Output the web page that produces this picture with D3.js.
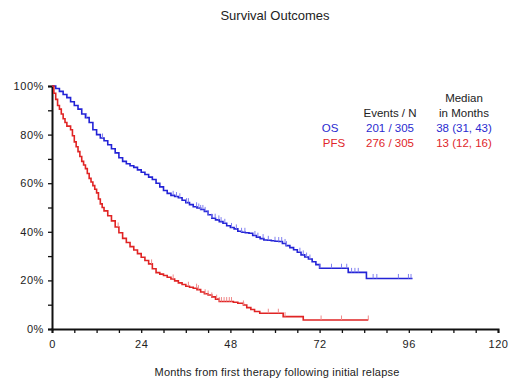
<!DOCTYPE html>
<html>
<head>
<script src="https://d3js.org/d3.v7.min.js"></script>
<style>
  body { margin: 0; background: #fff; }
  text { font-family: "Liberation Sans", Arial, sans-serif; fill: #222; }
</style>
</head>
<body>
<div id="chart"></div>
<script>
// OS curve: [months, survival %]
var osTimes = [0, 1, 2, 3, 4, 5, 6, 7, 8, 9, 10, 11, 12, 13, 14, 15, 16, 17, 18, 19, 20, 21, 22, 23, 24, 25, 26, 27,
  28, 29, 30, 31, 32, 33, 34, 35, 36, 37, 38, 39, 40, 41, 42, 43, 44, 45, 46, 47, 48, 49, 50, 51, 52, 53, 54, 55,
  56, 57, 58, 59, 60, 61, 62, 63, 64, 65, 66, 67, 68, 69, 70, 71, 72, 79.7, 84.6, 97];
var osSurv = [100, 99, 97.8, 96.5, 95.2, 93.5, 92, 90.5, 88.5, 87, 85, 82, 80, 78.6, 77.5, 75.8, 74.2, 72.5, 70.5, 69,
  68, 67.2, 66.5, 65.5, 64.5, 63.6, 62.5, 61.5, 60, 58.5, 57, 55.8, 55, 54.5, 54, 53, 52, 51.2, 50.3, 49.8, 49.2,
  48.4, 47, 45.6, 44.9, 44.2, 43.5, 42.5, 41.8, 41.2, 40.2, 39.8, 39.6, 39.4, 38.5, 37.8, 37.2, 36.6, 36.5, 36.3,
  36.1, 36, 35.2, 34.3, 33.5, 32.6, 31.6, 30.5, 29.6, 28.8, 27.7, 26.5, 25, 23.3, 20.8, 20.8];
var osCensor = [9.3, 13.6, 32.6, 33.5, 34.4, 36.2, 36.7, 38.9, 39.5, 40, 40.6, 41.2, 42, 43, 43.9, 44.9, 45.5, 46.5,
  48.3, 49.6, 51, 51.9, 54.6, 55.4, 56.8, 58.2, 60, 61, 61.8, 62.7, 63.1, 66.7, 67.6, 68.5, 69.4, 72.1, 75.2, 77.9,
  79.3, 80.6, 81.5, 82.4, 86.4, 87.4, 93.2, 95.9, 96.6];

// PFS curve
var pfsTimes = [0, 0.5, 1, 1.5, 2, 2.5, 3, 3.5, 4, 5, 5.5, 6, 6.5, 7, 7.5, 8, 8.5, 9, 9.5, 10, 10.5, 11, 11.5, 12,
  12.5, 13, 13.5, 14, 15, 16, 17, 18, 19, 20, 21, 22, 23, 24, 25, 26, 27, 28, 29, 30, 31, 32, 33, 34, 35, 36, 37,
  38, 39, 40, 41, 42, 43, 44, 45, 48.8, 50, 51.5, 52.4, 53.5, 54.5, 55.9, 62.2, 67.6, 85.1];
var pfsSurv = [100, 97, 94.5, 92, 90.5, 88.5, 86.5, 85, 83.5, 82, 79.5, 77, 75, 73, 71, 69, 67.5, 66, 64, 62, 60.5,
  59, 57.5, 56, 53.5, 51.5, 50, 48.6, 46.6, 44.5, 42, 39.6, 37.3, 35.6, 33.9, 32.5, 31, 29.5, 28.2, 26.8, 24.8,
  23.2, 22.6, 22, 21.3, 20.6, 19.8, 19, 18.3, 17.6, 17.2, 16.8, 16.2, 15.2, 14.5, 14, 13.2, 12.3, 11.3, 11, 10.6,
  9.9, 8.8, 8, 7.2, 6.5, 5.1, 3.7, 3.7];
var pfsCensor = [17.8, 26.8, 32.6, 36.7, 38.9, 39.4, 41.2, 42, 43, 44.3, 45, 45.6, 46.3, 47, 47.7, 48.3, 51.5, 58.2,
  60.9, 62.7, 72.4, 77.9, 85.1];

var xTicks = [0, 24, 48, 72, 96, 120];
var yTicks = [0, 20, 40, 60, 80, 100];

var width = 520, height = 389;
var svg = d3.select("#chart").append("svg")
  .attr("width", width).attr("height", height);

var x = d3.scaleLinear().domain([0, 120]).range([52, 498]);
var y = d3.scaleLinear().domain([0, 100]).range([329, 86]);

// title
svg.append("text").attr("x", 275).attr("y", 20)
  .attr("text-anchor", "middle").style("font-size", "13px").text("Survival Outcomes");

// axes
var xAxis = d3.axisBottom(x).tickValues(d3.range(0, 121, 6)).tickSize(4)
  .tickFormat(function (d) { return xTicks.indexOf(d) >= 0 ? d : ""; });
var yAxis = d3.axisLeft(y).tickValues(d3.range(0, 101, 10)).tickSize(4)
  .tickFormat(function (d) { return yTicks.indexOf(d) >= 0 ? d + "%" : ""; });

var gx = svg.append("g").attr("transform", "translate(0," + y(0) + ")").call(xAxis);
var gy = svg.append("g").attr("transform", "translate(" + x(0) + ",0)").call(yAxis);
[gx, gy].forEach(function (g) {
  g.select(".domain").attr("stroke", "#111").attr("stroke-width", 2);
  g.selectAll(".tick line").attr("stroke", "#111").attr("stroke-width", 1.3);
  g.selectAll(".tick text").style("font-size", "11px").style("letter-spacing", "0.6px")
    .attr("fill", "#222").style("font-family", "'Liberation Sans', Arial, sans-serif");
});
gx.selectAll(".tick text").attr("dy", "1.1em");
gy.selectAll(".tick text").attr("x", -8);

svg.append("text").attr("x", 277).attr("y", 376)
  .attr("text-anchor", "middle").style("font-size", "11px").style("letter-spacing", "0.2px")
  .text("Months from first therapy following initial relapse");

// curves
function drawCurve(times, surv, censor, color, light) {
  var pts = times.map(function (t, i) { return [t, surv[i]]; });
  var line = d3.line()
    .x(function (d) { return x(d[0]); })
    .y(function (d) { return y(d[1]); })
    .curve(d3.curveStepAfter);
  svg.append("path").datum(pts).attr("d", line)
    .attr("fill", "none").attr("stroke", color).attr("stroke-width", 1.6);

  var at = function (t) {
    var i = d3.bisectRight(times, t) - 1;
    return surv[Math.max(0, i)];
  };
  svg.append("g").selectAll("line").data(censor).join("line")
    .attr("x1", function (d) { return x(d); })
    .attr("x2", function (d) { return x(d); })
    .attr("y1", function (d) { return y(at(d)); })
    .attr("y2", function (d) { return y(at(d)) - 4.5; })
    .attr("stroke", light).attr("stroke-width", 1);
}
drawCurve(osTimes, osSurv, osCensor, "#2323d6", "#8080f0");
drawCurve(pfsTimes, pfsSurv, pfsCensor, "#e02424", "#f08a8a");

// legend table
var legend = svg.append("g").style("font-size", "11.5px");
function txt(xp, yp, s, col) {
  legend.append("text").attr("x", xp).attr("y", yp).attr("text-anchor", "middle")
    .style("fill", col || "#222").text(s);
}
txt(464, 102, "Median");
txt(464, 117, "in Months");
txt(390, 117, "Events / N");
txt(330, 132, "OS", "#2a2ad0");
txt(390, 132, "201 / 305", "#2a2ad0");
txt(464, 132, "38 (31, 43)", "#2a2ad0");
txt(334, 147, "PFS", "#e0262a");
txt(390, 147, "276 / 305", "#e0262a");
txt(464, 147, "13 (12, 16)", "#e0262a");
</script>
</body>
</html>
